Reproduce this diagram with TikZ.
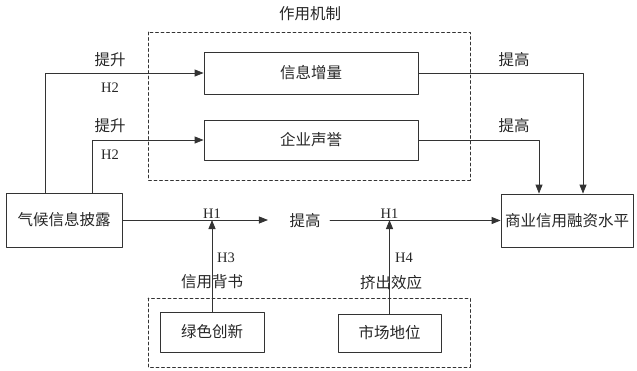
\documentclass[tikz,border=0pt]{standalone}
\usepackage{fontspec}
\setmainfont{Liberation Serif}
\newfontfamily\cjk{Noto Sans CJK SC}
\usetikzlibrary{arrows.meta,positioning}

\begin{document}
\begin{tikzpicture}[x=1pt,y=-1pt,line cap=round,line join=round,
    >={Triangle[length=9pt,width=7pt]},
    every node/.style={text=black!85,font=\cjk\fontsize{15.5}{18}\selectfont},
    box/.style={draw=black!80,line width=.8pt,inner sep=0pt},
    frame/.style={draw=black!80,dashed,dash pattern=on 3pt off 2.5pt,line width=.8pt},
    link/.style={draw=black!80,line width=.8pt},
    hyp/.style={font=\fontsize{14.5}{16}\selectfont}]
    \useasboundingbox (0,0) rectangle (637,370);

    % Dashed frames for the mechanism and the moderators.
    \draw[frame] (148,32) rectangle (470,180);
    \draw[frame] (148,298) rectangle (470,367);
    \node (mechtitle) at (310,14) {作用机制};

    % The boxes.
    \node[box,minimum width=116,minimum height=54] (disc) at (64,220) {气候信息披露};
    \node[box,minimum width=132,minimum height=53] (credit) at (567,220.5) {商业信用融资水平};
    \node[box,minimum width=214,minimum height=42] (info) at (311,73) {信息增量};
    \node[box,minimum width=214,minimum height=40] (repu) at (311,140) {企业声誉};
    \node[box,minimum width=104,minimum height=40] (green) at (212,332) {绿色创新};
    \node[box,minimum width=103,minimum height=38] (market) at (389.5,333) {市场地位};
    \node (mid) at (305,221) {提高};

    % Paths through the mechanism.
    \draw[link,->] ([xshift=-19pt]disc.north) |- (info.west);
    \draw[link,->] ([xshift=28pt]disc.north) |- (repu.west);
    \draw[link,->] (info.east) -| ([xshift=16pt]credit.north);
    \draw[link,->] (repu.east) -| ([xshift=-28pt]credit.north);
    \node at (110,60) {提升};
    \node[hyp] at (110,88) {H2};
    \node at (110,126) {提升};
    \node[hyp] at (110,155) {H2};
    \node at (514,60) {提高};
    \node at (514,126) {提高};

    % The main effect and the two moderators.
    \draw[link,->,shorten >=18pt] (disc.east) -- (disc.east -| mid.west);
    \draw[link,->,shorten <=6pt] (mid.east |- credit.west) -- (credit.west);
    \coordinate (hthree) at (green.north |- disc.east);
    \coordinate (hfour) at (market.north |- disc.east);
    \draw[link,->] (green.north) -- (hthree);
    \draw[link,->] (market.north) -- (hfour);
    \node[hyp,anchor=south] at ([yshift=-2pt]hthree) {H1};
    \node[hyp,anchor=south] at ([yshift=-2pt]hfour) {H1};
    \node[hyp] at (226,258) {H3};
    \node (endorse) at (212,282) {信用背书};
    \node[hyp] at (404,258) {H4};
    \node (crowd) at (391,283) {挤出效应};
\end{tikzpicture}
\end{document}
